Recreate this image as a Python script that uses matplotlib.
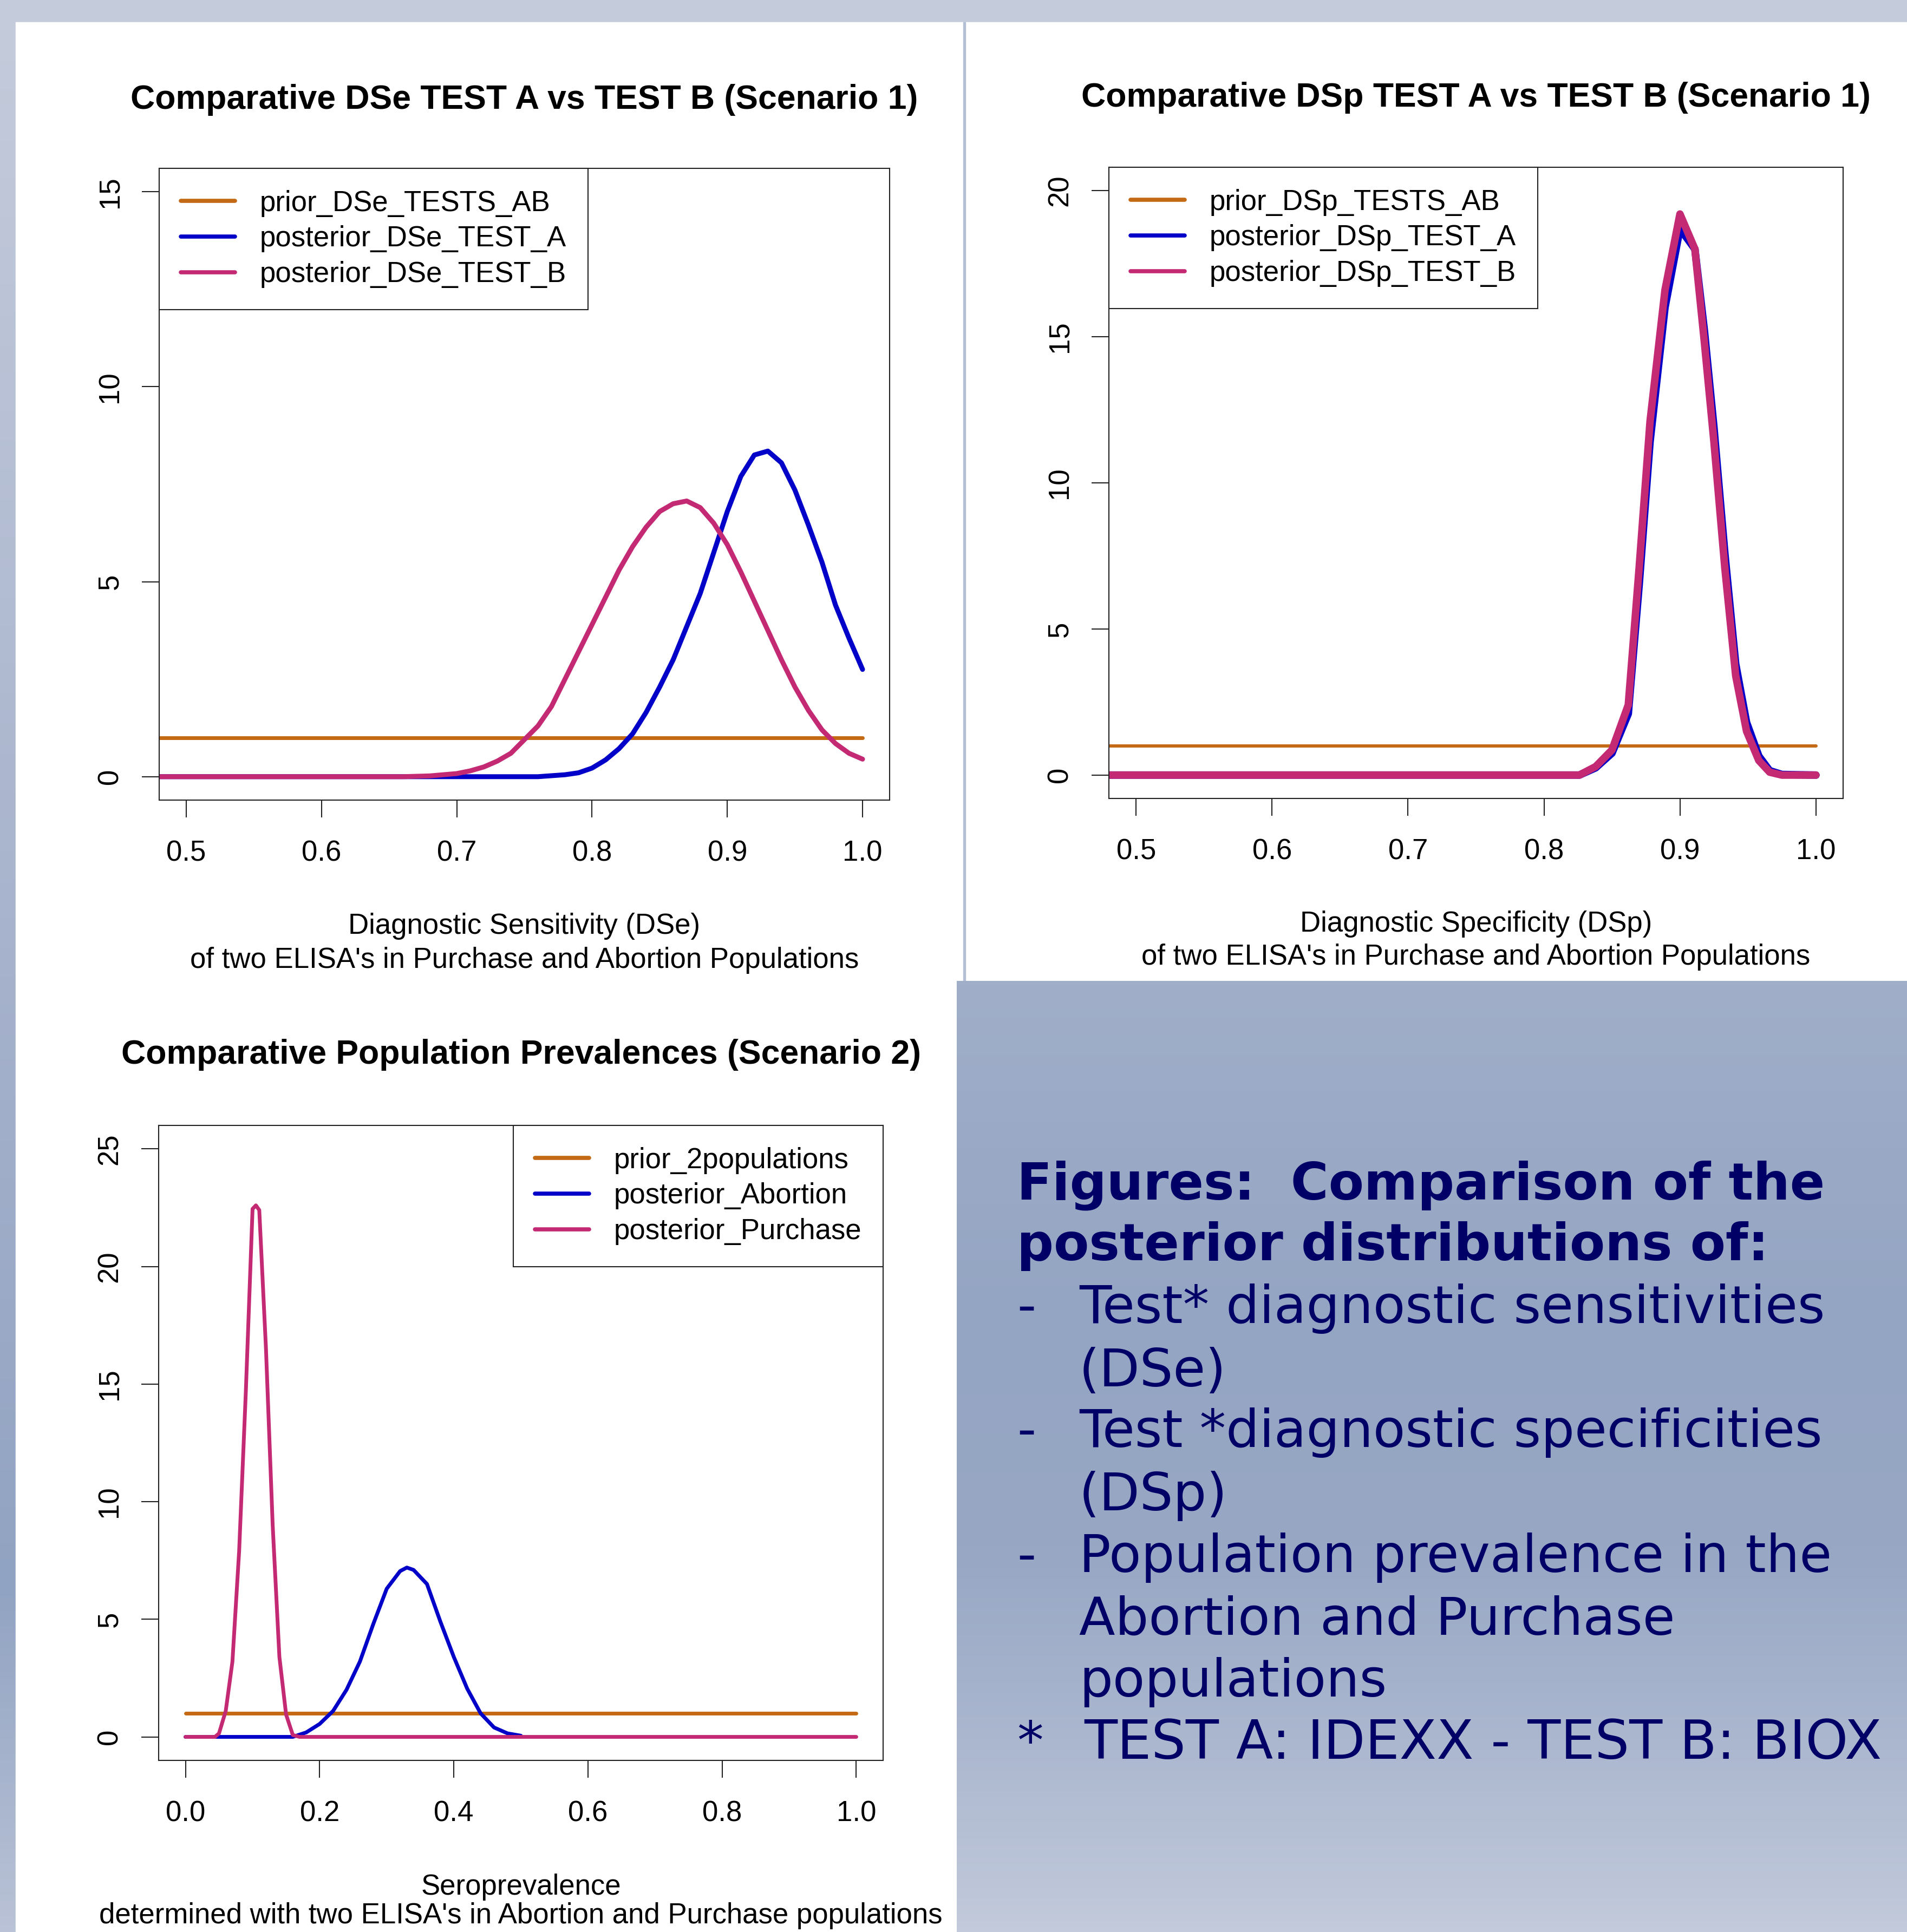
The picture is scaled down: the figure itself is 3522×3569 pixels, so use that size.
"""
Three posterior-density panels (DSe, DSp, prevalence) plus a caption box,
rebuilt from the poster figure.
"""
import matplotlib.pyplot as plt
from matplotlib.colors import LinearSegmentedColormap
from matplotlib.patches import Rectangle
import numpy as np

# ── canvas ─────────────────────────────────────────────────────────────────
W, H = 3523, 3569
DPI = 100

# ── data ───────────────────────────────────────────────────────────────────
prior_x = [0.0, 1.0]
prior_y = [1.0, 1.0]

dse_a_x = [0.00, 0.76, 0.78, 0.79, 0.80, 0.81, 0.82, 0.83, 0.84, 0.85, 0.86,
           0.87, 0.88, 0.89, 0.90, 0.91, 0.92, 0.93, 0.94, 0.95, 0.96, 0.97,
           0.98, 0.99, 1.00]
dse_a_y = [0.0, 0.0, 0.05, 0.10, 0.22, 0.43, 0.72, 1.10, 1.65, 2.30, 3.00,
           3.85, 4.70, 5.75, 6.80, 7.70, 8.25, 8.35, 8.05, 7.35, 6.45, 5.50,
           4.40, 3.55, 2.75]

dse_b_x = [0.00, 0.66, 0.68, 0.70, 0.71, 0.72, 0.73, 0.74, 0.75, 0.76, 0.77,
           0.78, 0.79, 0.80, 0.81, 0.82, 0.83, 0.84, 0.85, 0.86, 0.87, 0.88,
           0.89, 0.90, 0.91, 0.92, 0.93, 0.94, 0.95, 0.96, 0.97, 0.98, 0.99,
           1.00]
dse_b_y = [0.0, 0.0, 0.02, 0.08, 0.15, 0.25, 0.40, 0.60, 0.95, 1.30, 1.80,
           2.50, 3.20, 3.90, 4.60, 5.30, 5.90, 6.40, 6.80, 7.00, 7.07, 6.90,
           6.50, 5.95, 5.25, 4.50, 3.75, 3.00, 2.30, 1.70, 1.20, 0.85, 0.60,
           0.45]

dsp_x = [0.00, 0.826, 0.838, 0.850, 0.862, 0.870, 0.878, 0.889, 0.900, 0.911,
         0.918, 0.925, 0.933, 0.941, 0.949, 0.958, 0.966, 0.975, 1.00]
dsp_a_y = [0.0, 0.0, 0.25, 0.75, 2.1, 6.5, 11.4, 16.0, 18.7, 18.0,
           15.2, 11.9, 7.6, 3.8, 1.8, 0.65, 0.15, 0.02, 0.0]
dsp_b_y = [0.0, 0.0, 0.29, 0.86, 2.4, 7.1, 12.1, 16.6, 19.2, 18.0,
           14.8, 11.4, 7.1, 3.4, 1.5, 0.50, 0.10, 0.0, 0.0]

abort_x = [0.00, 0.16, 0.18, 0.20, 0.22, 0.24, 0.26, 0.28, 0.30, 0.32, 0.33,
           0.34, 0.36, 0.38, 0.40, 0.42, 0.44, 0.46, 0.48, 0.50]
abort_y = [0.0, 0.0, 0.19, 0.55, 1.10, 2.00, 3.20, 4.80, 6.30, 7.05, 7.20,
           7.10, 6.50, 4.90, 3.40, 2.05, 1.00, 0.40, 0.15, 0.05]

purch_x = [0.00, 0.044, 0.05, 0.06, 0.07, 0.08, 0.09, 0.10, 0.105, 0.11, 0.12,
           0.13, 0.14, 0.15, 0.16, 0.17, 1.00]
purch_y = [0.0, 0.0, 0.15, 1.10, 3.20, 7.90, 14.7, 22.45, 22.6, 22.4, 16.5,
           9.0, 3.4, 0.95, 0.08, 0.0, 0.0]

# ── colours ────────────────────────────────────────────────────────────────
ORANGE = '#C46A14'
BLUE = '#0000C8'
PINK = '#C42A74'
NAVY = '#000066'

plt.rcParams['font.family'] = ['Liberation Sans', 'DejaVu Sans']

fig = plt.figure(figsize=(W / DPI, H / DPI), dpi=DPI)


def frac(x0, y0, x1, y1):
    """pixel box (top-left origin) -> figure fraction rect"""
    return [x0 / W, 1 - y1 / H, (x1 - x0) / W, (y1 - y0) / H]


def ftext(x, y, s, **kw):
    fig.text(x / W, 1 - y / H, s, **kw)


# ── background ─────────────────────────────────────────────────────────────
bg = fig.add_axes([0, 0, 1, 1], zorder=0)
bg.set_xlim(0, W)
bg.set_ylim(H, 0)
bg.axis('off')
bg.add_patch(Rectangle((0, 0), W, H, color='#c4cbdb', zorder=0))

strip_cmap = LinearSegmentedColormap.from_list(
    'strip', [(0, '#c4cbdb'), (0.5, '#a6b2cc'), (0.82, '#91a3c2'), (1, '#b9c2d6')])
grad = np.linspace(0, 1, 256)[:, None]
bg.imshow(grad, cmap=strip_cmap, extent=(0, 29, H, 41), aspect='auto', zorder=1)

bg.add_patch(Rectangle((29, 41), 1750, H - 41, color='white', zorder=2))
bg.add_patch(Rectangle((1783, 41), W - 1783, 1771, color='white', zorder=2))
bg.add_patch(Rectangle((1779, 41), 4, 1771, color='#b4bfd5', zorder=2))

box_cmap = LinearSegmentedColormap.from_list(
    'box', [(0, '#a0aec9'), (0.35, '#94a5c3'), (0.6, '#97a7c4'),
            (0.8, '#abb7cf'), (1, '#c2cadb')])
bg.imshow(grad, cmap=box_cmap, extent=(1767, W, H, 1812), aspect='auto', zorder=3)

# ── caption text ───────────────────────────────────────────────────────────
cap_kw = dict(family='DejaVu Sans', color=NAVY, va='baseline', zorder=5)
bg.text(1878, 2216, 'Figures:  Comparison of the', fontweight='bold',
        fontsize=68.5, **cap_kw)
bg.text(1878, 2328, 'posterior distributions of:', fontweight='bold',
        fontsize=68.5, **cap_kw)
bullets = [('-', 'Test* diagnostic sensitivities', 2444),
           (None, '(DSe)', 2561),
           ('-', 'Test *diagnostic specificities', 2673),
           (None, '(DSp)', 2790),
           ('-', 'Population prevalence in the', 2904),
           (None, 'Abortion and Purchase', 3020),
           (None, 'populations', 3134)]
for mark, line, yb in bullets:
    if mark:
        bg.text(1878, yb, mark, fontsize=70, **cap_kw)
    bg.text(1993, yb, line, fontsize=70, **cap_kw)
bg.text(1878, 3249, '*', fontsize=70, **cap_kw)
bg.text(2002, 3249, 'TEST A: IDEXX - TEST B: BIOX', fontsize=72, **cap_kw)


# ── panels ─────────────────────────────────────────────────────────────────
def panel(box, xlim, ylim, xticks, yticks, series, labels, lws, leg_loc,
          title, title_y, xlab, xlab_y):
    ax = fig.add_axes(frac(*box), zorder=4)
    ax.set_facecolor('white')
    for (xs, ys), col, lw in zip(series, [ORANGE, BLUE, PINK], lws):
        ax.plot(xs, ys, color=col, linewidth=lw, solid_capstyle='round',
                solid_joinstyle='round')
    ax.set_xlim(*xlim)
    ax.set_ylim(*ylim)
    ax.set_xticks(xticks)
    ax.set_xticklabels(['%.1f' % t for t in xticks])
    ax.set_yticks(yticks)
    ax.set_yticklabels([str(t) for t in yticks], rotation=90, va='center')
    ax.tick_params(direction='out', length=23, width=1.5, labelsize=38,
                   color='#222222')
    ax.tick_params(axis='x', pad=30)
    ax.tick_params(axis='y', pad=24)
    for sp in ax.spines.values():
        sp.set_linewidth(1.5)
        sp.set_color('#222222')
    leg = ax.legend(labels, loc=leg_loc, fontsize=38, borderaxespad=0,
                    fancybox=False, framealpha=1, edgecolor='#222222',
                    handlelength=1.9, handletextpad=0.87, borderpad=0.75,
                    labelspacing=0.3)
    leg.get_frame().set_linewidth(1.5)
    for h, col in zip(leg.get_lines(), [ORANGE, BLUE, PINK]):
        h.set_linewidth(5.5)
        h.set_color(col)
    cx = (box[0] + box[2]) / 2
    ftext(cx, title_y, title, ha='center', va='center', fontsize=45,
          fontweight='bold')
    for line, yy in zip(xlab, xlab_y):
        ftext(cx, yy, line, ha='center', va='center', fontsize=38)
    return ax


panel((294, 311, 1643, 1478), (0.48, 1.02), (-0.6, 15.6),
      [0.5, 0.6, 0.7, 0.8, 0.9, 1.0], [0, 5, 10, 15],
      [(prior_x, prior_y), (dse_a_x, dse_a_y), (dse_b_x, dse_b_y)],
      ['prior_DSe_TESTS_AB', 'posterior_DSe_TEST_A', 'posterior_DSe_TEST_B'],
      [5, 6.5, 6.5], 'upper left',
      'Comparative DSe TEST A vs TEST B (Scenario 1)', 184,
      ['Diagnostic Sensitivity (DSe)',
       "of two ELISA's in Purchase and Abortion Populations"], [1711, 1774])

panel((2048, 309, 3404, 1475), (0.48, 1.02), (-0.8, 20.8),
      [0.5, 0.6, 0.7, 0.8, 0.9, 1.0], [0, 5, 10, 15, 20],
      [(prior_x, prior_y), (dsp_x, dsp_a_y), (dsp_x, dsp_b_y)],
      ['prior_DSp_TESTS_AB', 'posterior_DSp_TEST_A', 'posterior_DSp_TEST_B'],
      [4.3, 10, 10], 'upper left',
      'Comparative DSp TEST A vs TEST B (Scenario 1)', 181,
      ['Diagnostic Specificity (DSp)',
       "of two ELISA's in Purchase and Abortion Populations"], [1707, 1768])

panel((293, 2079, 1631, 3252), (-0.04, 1.04), (-1, 26),
      [0.0, 0.2, 0.4, 0.6, 0.8, 1.0], [0, 5, 10, 15, 20, 25],
      [(prior_x, prior_y), (abort_x, abort_y), (purch_x, purch_y)],
      ['prior_2populations', 'posterior_Abortion', 'posterior_Purchase'],
      [5, 5, 5], 'upper right',
      'Comparative Population Prevalences (Scenario 2)', 1949,
      ['Seroprevalence',
       "determined with two ELISA's in Abortion and Purchase populations"],
      [3486, 3539])

fig.savefig('out.png', dpi=DPI)
